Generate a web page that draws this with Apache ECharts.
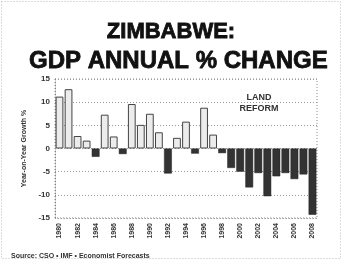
<!DOCTYPE html>
<html>
<head>
<meta charset="utf-8">
<script src="https://cdn.jsdelivr.net/npm/echarts@6/dist/echarts.min.js"></script>
<style>
    html, body { margin: 0; padding: 0; background: #fff; }
    #chart { width: 342px; height: 260px; }
</style>
</head>
<body>
<div id="chart"></div>
<script>
// years on the x axis
const years = [
    '1980', '1981', '1982', '1983', '1984', '1985', '1986', '1987', '1988', '1989',
    '1990', '1991', '1992', '1993', '1994', '1995', '1996', '1997', '1998', '1999',
    '2000', '2001', '2002', '2003', '2004', '2005', '2006', '2007', '2008'
];
// GDP annual % change
const gdpChange = [
    11.2, 12.8, 2.7, 1.7, -1.8, 7.3, 2.6, -1.2, 9.6, 5.1,
    7.5, 3.5, -5.4, 2.3, 5.8, -1.1, 8.8, 3.0, -1.0, -4.2,
    -5.0, -8.4, -5.3, -10.3, -6.0, -5.3, -6.6, -5.6, -14.3
];
const yTicks = [-15, -10, -5, 0, 5, 10, 15];

function renderChart() {
    let chart = echarts.init(document.getElementById('chart'));
    chart.setOption(getOption());
}

function getOption() {
    let barData = gdpChange.map(v => ({
        value: v,
        itemStyle: v >= 0
            ? { color: '#ececec', borderColor: '#444', borderWidth: 1 }
            : { color: '#333', borderColor: '#222', borderWidth: 0.5 }
    }));

    return {
        backgroundColor: '#fff',
        animation: false,
        title: [
            {
                text: 'ZIMBABWE:',
                left: 'center',
                top: 16,
                textStyle: {
                    fontFamily: 'Liberation Sans', fontWeight: 'bold', fontSize: 22, color: '#111',
                    textBorderColor: '#111', textBorderWidth: 0.8
                }
            },
            {
                text: 'GDP ANNUAL % CHANGE',
                left: 24,
                top: 44,
                textStyle: {
                    fontFamily: 'Liberation Sans', fontWeight: 'bold', fontSize: 24, color: '#111',
                    textBorderColor: '#111', textBorderWidth: 0.8
                }
            },
            {
                text: 'Source: CSO • IMF • Economist Forecasts',
                left: 6,
                top: 248,
                textStyle: { fontFamily: 'Liberation Sans', fontWeight: 'bold', fontSize: 7, color: '#333' }
            }
        ],
        graphic: [
            {
                type: 'rect',
                shape: { x: 1.5, y: 1.5, width: 339, height: 257 },
                style: { fill: 'none', stroke: '#bbb', lineWidth: 1, lineDash: [1, 2] },
                silent: true
            },
            {
                type: 'text',
                x: 259,
                y: 92,
                style: {
                    text: 'LAND\nREFORM',
                    align: 'center',
                    fontFamily: 'Liberation Sans',
                    fontWeight: 'bold',
                    fontSize: 9,
                    lineHeight: 11,
                    fill: '#333'
                }
            }
        ],
        grid: {
            left: 55,
            right: 25,
            top: 79,
            bottom: 42,
            show: true,
            borderColor: '#888',
            borderWidth: 1,
            borderType: [1, 2]
        },
        xAxis: {
            type: 'category',
            data: years,
            axisLine: { show: false },
            axisTick: { show: false },
            axisLabel: {
                interval: 1,
                rotate: 90,
                margin: 5,
                fontFamily: 'Liberation Sans',
                fontWeight: 'bold',
                fontSize: 7,
                color: '#333'
            }
        },
        yAxis: {
            type: 'value',
            min: yTicks[0],
            max: yTicks[yTicks.length - 1],
            interval: 5,
            name: 'Year-on-Year Growth %',
            nameLocation: 'middle',
            nameGap: 22,
            nameTextStyle: { fontFamily: 'Liberation Sans', fontWeight: 'bold', fontSize: 7, color: '#333' },
            axisLine: { show: true, lineStyle: { color: '#888', type: [1, 2] } },
            axisTick: { show: false },
            axisLabel: {
                margin: 5,
                fontFamily: 'Liberation Sans',
                fontWeight: 'bold',
                fontSize: 8,
                color: '#333'
            },
            splitLine: { show: true, lineStyle: { color: '#999', type: [1, 2] } }
        },
        series: [
            {
                name: 'GDP % change',
                type: 'bar',
                barCategoryGap: '14%',
                data: barData
            }
        ]
    };
}

renderChart();
</script>
</body>
</html>
